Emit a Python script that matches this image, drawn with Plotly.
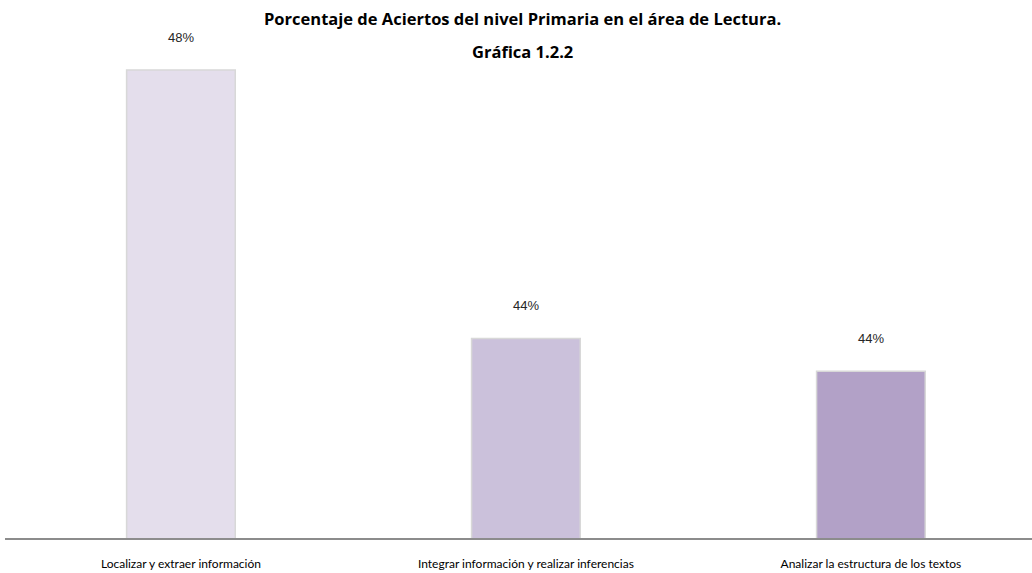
import plotly.graph_objects as go

categories = [
    "Localizar y extraer información",
    "Integrar información y realizar inferencias",
    "Analizar la estructura de los textos",
]
aciertos = [48.2, 44.1, 43.6]
bar_colors = ["#E4DEEC", "#CBC1DB", "#B2A1C7"]

title_font = "Open Sans, Lato, sans-serif"
tick_font = "Lato, sans-serif"

fig = go.Figure()
fig.add_trace(go.Bar(
    x=categories,
    y=aciertos,
    width=0.315,
    marker=dict(color=bar_colors, line=dict(color="#D8D8D8", width=1.5)),
    hoverinfo="x+y",
))

# value labels sit well above each bar
for cat, val in zip(categories, aciertos):
    fig.add_annotation(
        x=cat, y=val, text=f"{val:.0f}%", showarrow=False,
        yshift=33, font=dict(family="Liberation Sans, Arial, sans-serif", size=13, color="#262626"),
    )

fig.add_annotation(
    text="<b>Porcentaje de Aciertos del nivel Primaria en el área de Lectura.</b>",
    xref="paper", yref="paper", x=0.504, y=1.044, yanchor="middle", showarrow=False,
    font=dict(family=title_font, size=16.5, color="#000000"),
)
fig.add_annotation(
    text="<b>Gráfica 1.2.2</b>",
    xref="paper", yref="paper", x=0.504, y=0.976, yanchor="middle", showarrow=False,
    font=dict(family=title_font, size=16.5, color="#000000"),
)

fig.update_layout(
    width=1032,
    height=573,
    margin=dict(l=5, r=0, t=40, b=35),
    plot_bgcolor="white",
    paper_bgcolor="white",
    showlegend=False,
    xaxis=dict(
        range=[-0.51, 2.467],
        showline=True, linecolor="#8C8C8C", linewidth=2,
        ticks="", showgrid=False,
        tickfont=dict(family=tick_font, size=12, color="#000000"),
        ticklabelstandoff=14,
    ),
    yaxis=dict(
        range=[41.05, 48.66],
        visible=False, showgrid=False,
    ),
)

fig.write_html(
    "out.html",
    config={"displayModeBar": False},
    post_script="document.body.style.margin='0';",
)
